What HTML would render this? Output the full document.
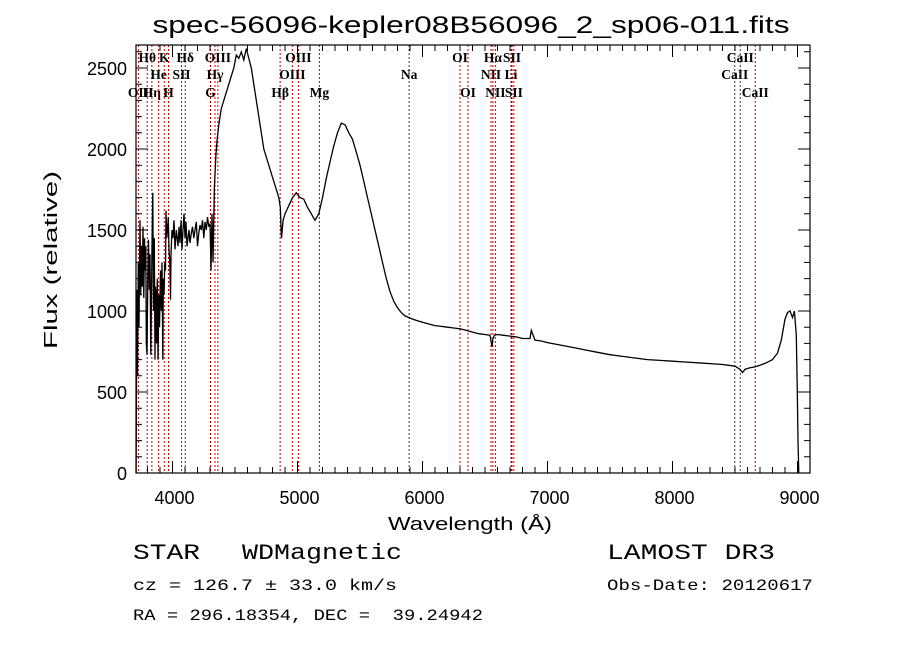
<!DOCTYPE html>
<html><head><meta charset="utf-8"><style>
html,body{margin:0;padding:0;background:#fff;}
svg{display:block;}
text{font-family:"Liberation Sans",sans-serif;fill:#000;}
.m{font-family:"Liberation Mono",monospace;}
.s{font-family:"Liberation Serif",serif;font-size:13.5px;font-weight:bold;}
</style></head><body>
<svg id="chart" width="900" height="649" viewBox="0 0 900 649" xmlns="http://www.w3.org/2000/svg">
<text x="471" y="33" font-size="24" text-anchor="middle" textLength="637" lengthAdjust="spacingAndGlyphs">spec-56096-kepler08B56096_2_sp06-011.fits</text>
<g id="lines"></g>
<g id="ticks"></g>
<path id="spec" fill="none" stroke="#000" stroke-width="1.3"/>
<rect x="136" y="45" width="674" height="428" fill="none" stroke="#000" stroke-width="1.2"/>
<text x="470" y="530" font-size="18" text-anchor="middle" textLength="164" lengthAdjust="spacingAndGlyphs">Wavelength (Å)</text>
<text transform="translate(57,260) rotate(-90)" font-size="18" text-anchor="middle" textLength="178" lengthAdjust="spacingAndGlyphs">Flux (relative)</text>
<text class="m" x="133" y="559" font-size="22" textLength="67" lengthAdjust="spacingAndGlyphs">STAR</text>
<text class="m" x="242" y="559" font-size="22" textLength="160" lengthAdjust="spacingAndGlyphs">WDMagnetic</text>
<text class="m" x="607" y="559" font-size="22" textLength="168" lengthAdjust="spacingAndGlyphs">LAMOST DR3</text>
<text class="m" x="133" y="590" font-size="16" textLength="264" lengthAdjust="spacingAndGlyphs">cz = 126.7 ± 33.0 km/s</text>
<text class="m" x="607" y="590" font-size="16" textLength="206" lengthAdjust="spacingAndGlyphs">Obs-Date: 20120617</text>
<text class="m" x="133" y="620" font-size="16" textLength="350" lengthAdjust="spacingAndGlyphs" xml:space="preserve">RA = 296.18354, DEC =  39.24942</text>
</svg>
<script>
const wavelengths=[
3709,3712,3716,3720,3726,3732,3740,3746,3752,3758,
3764,3770,3776,3780,3786,3790,3796,3802,3808,3814,
3820,3826,3832,3836,3842,3848,3854,3860,3864,3868,
3872,3878,3884,3890,3896,3904,3910,3916,3922,3926,
3932,3938,3944,3948,3954,3960,3966,3972,3978,3984,
3988,3996,4004,4012,4020,4030,4044,4052,4060,4068,
4076,4084,4092,4100,4108,4116,4124,4132,4140,4150,
4160,4170,4180,4190,4200,4210,4220,4230,4240,4250,
4260,4270,4280,4290,4300,4308,4316,4324,4334,4346,
4356,4370,4390,4410,4430,4450,4470,4490,4510,4530,
4550,4570,4590,4610,4630,4650,4670,4690,4710,4730,
4750,4770,4790,4810,4830,4850,4862,4872,4885,4900,
4930,4960,4990,5020,5050,5080,5110,5140,5170,5200,
5230,5260,5290,5320,5350,5380,5410,5440,5470,5500,
5530,5560,5590,5620,5650,5680,5710,5740,5770,5800,
5830,5860,5890,5920,5960,6000,6050,6100,6150,6200,
6250,6300,6350,6400,6450,6500,6540,6556,6563,6575,
6600,6650,6700,6750,6800,6860,6870,6900,6950,7000,
7100,7200,7300,7400,7500,7600,7700,7800,7900,8000,
8100,8200,8300,8400,8450,8500,8540,8560,8580,8620,
8660,8700,8750,8800,8840,8870,8900,8920,8940,8960,
8975,8990,8998,9004,9010];
const fluxes=[
0,600,1130,600,1300,900,1560,1100,1400,1150,
1520,1080,1450,1250,1400,800,730,1200,1440,1130,
1350,730,1100,1400,1730,1000,1450,700,1150,1100,
800,1200,700,1100,900,1250,1000,1300,700,1200,
1100,1300,1250,1620,1450,1500,1580,1380,1300,1070,
1350,1500,1450,1560,1380,1500,1400,1520,1420,1560,
1380,1500,1600,1450,1550,1400,1450,1500,1420,1480,
1520,1450,1500,1550,1400,1480,1530,1500,1560,1450,
1550,1500,1580,1520,1540,1250,1600,1300,1750,1950,
2050,2150,2250,2300,2350,2400,2450,2500,2580,2560,
2600,2550,2620,2560,2500,2400,2300,2200,2100,2000,
1950,1900,1850,1800,1750,1700,1640,1450,1560,1600,
1650,1700,1730,1700,1690,1640,1600,1560,1600,1700,
1820,1920,2020,2100,2160,2150,2100,2060,1980,1900,
1800,1700,1600,1500,1400,1300,1200,1120,1060,1020,
990,970,960,950,940,930,920,910,905,900,
895,890,880,870,860,855,850,780,830,850,
855,850,845,840,830,830,880,820,815,805,
790,775,760,745,730,720,710,700,695,690,
685,680,675,670,665,660,640,620,640,650,
655,665,680,700,740,820,950,990,1000,960,
1000,850,500,200,0];

const X0=172.5,SX=0.125,Y0=473,SY=0.162;
function xs(w){return X0+(w-4000)*SX;}
function ys(f){return Y0-f*SY;}
const NS="http://www.w3.org/2000/svg";

let d='';
const n=Math.min(wavelengths.length,fluxes.length);
for(let i=0;i<n;i++){d+=(i?'L':'M')+xs(wavelengths[i]).toFixed(1)+','+ys(Math.max(0,Math.min(2640,fluxes[i]))).toFixed(1);}
document.getElementById('spec').setAttribute('d',d);

const xTickLabels=['4000','5000','6000','7000','8000','9000'];
const yTickLabels=['0','500','1000','1500','2000','2500'];
const tg=document.getElementById('ticks');
let td='';
for(let w=3800;w<=9100;w+=100){const x=xs(w);const L=(w%1000===0)?12:6;td+=`M${x},473v-${L}M${x},45v${L}`;}
for(let f=0;f<=2600;f+=100){const y=ys(f);const L=(f%500===0)?12:6;td+=`M136,${y}h${L}M810,${y}h-${L}`;}
const tp=document.createElementNS(NS,'path');


tp.setAttribute('d',td);tp.setAttribute('stroke','#000');tp.setAttribute('stroke-width','1');
tg.appendChild(tp);
xTickLabels.forEach(t=>{const e=document.createElementNS(NS,'text');


e.setAttribute('x',xs(+t)+2);e.setAttribute('y',504);e.setAttribute('font-size','18');e.setAttribute('text-anchor','middle');e.textContent=t;tg.appendChild(e);});
yTickLabels.forEach(t=>{const e=document.createElementNS(NS,'text');


e.setAttribute('x',127);e.setAttribute('y',ys(+t)+7);e.setAttribute('font-size','18');e.setAttribute('text-anchor','end');e.textContent=t;tg.appendChild(e);});

const lineWl=[3727,3798,3835,3889,3934,3968,4072,4102,4304,4340,4363,4861,4959,5007,5175,5893,6300,6364,6548,6563,6583,6708,6716,6731,8498,8542,8662];
const lineNames=['OII','Hθ','Hη','He','K','H','SII','Hδ','G','Hγ','OIII','Hβ','OIII','OIII','Mg','Na','OI','OI','NII','Hα','NII','Li','SII','SII','CaII','CaII','CaII'];
const lineRows=[2,0,2,1,0,2,1,0,2,1,0,2,1,0,2,1,0,2,1,0,2,1,0,2,1,0,2];
const lineBlack=[0,0,0,0,0,0,0,0,0,0,0,0,0,0,1,1,0,0,0,0,0,0,0,0,1,1,0];
const lg=document.getElementById('lines');
const rowY=[62,79,97];
lineWl.forEach((w,i)=>{const x=xs(w);
const l=document.createElementNS(NS,'line');


l.setAttribute('x1',x);l.setAttribute('x2',x);l.setAttribute('y1',45);l.setAttribute('y2',473);
l.setAttribute('stroke',lineBlack[i]?'#333':'#c00000');l.setAttribute('stroke-width','1');l.setAttribute('stroke-dasharray','2,2');
lg.appendChild(l);
const t=document.createElementNS(NS,'text');


t.setAttribute('class','s');t.setAttribute('x',x);t.setAttribute('y',rowY[lineRows[i]]);t.setAttribute('text-anchor','middle');
t.textContent=lineNames[i];lg.appendChild(t);});
</script>
</body></html>
